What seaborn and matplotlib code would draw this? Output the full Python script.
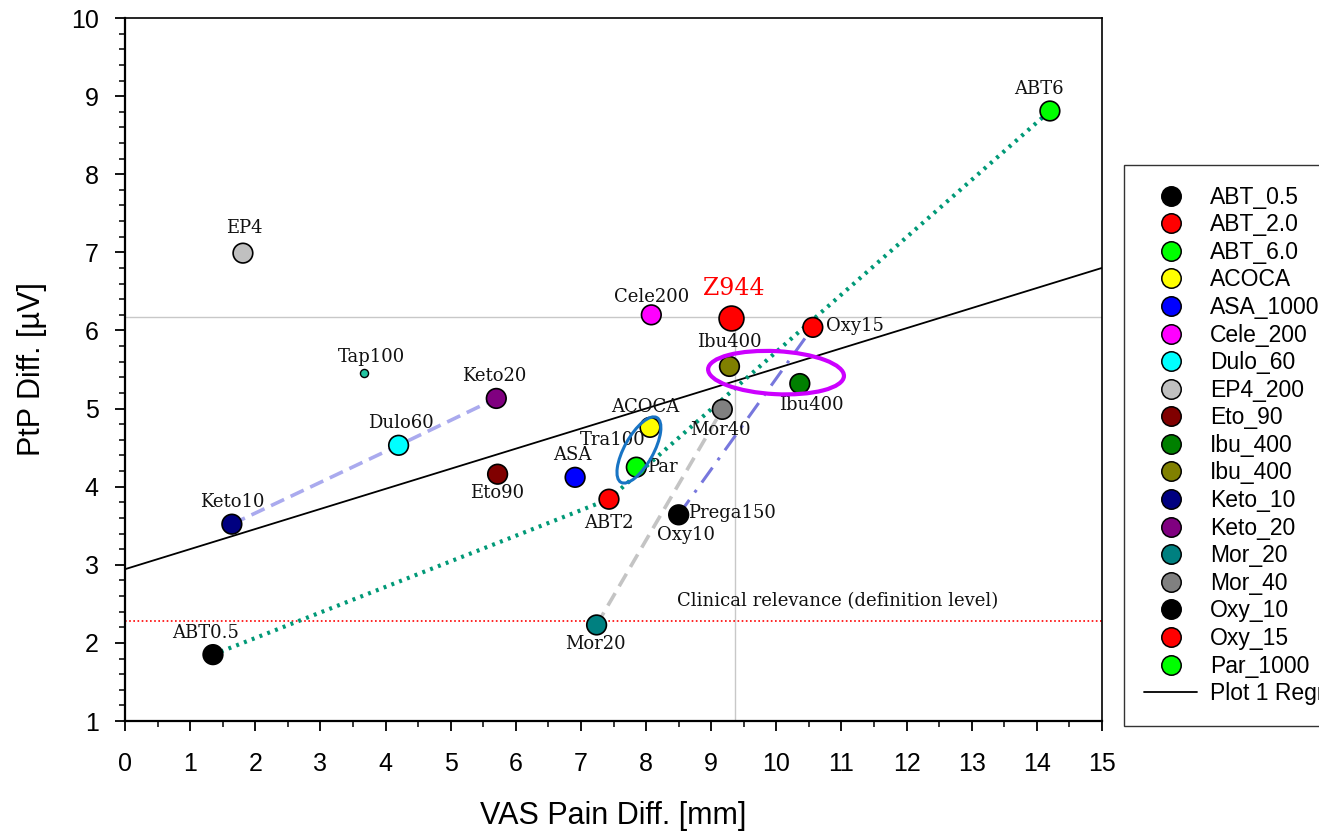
import numpy as np
import pandas as pd
import matplotlib
matplotlib.use('Agg')
import matplotlib.pyplot as plt
import seaborn as sns
from matplotlib.lines import Line2D
from matplotlib.patches import Ellipse
from matplotlib.transforms import ScaledTranslation
from matplotlib.ticker import MultipleLocator

# legend points (drug groups)
names = ['ABT_0.5', 'ABT_2.0', 'ABT_6.0', 'ACOCA', 'ASA_1000', 'Cele_200', 'Dulo_60', 'EP4_200',
         'Eto_90', 'Ibu_400', 'Ibu_400', 'Keto_10', 'Keto_20', 'Mor_20', 'Mor_40', 'Oxy_10',
         'Oxy_15', 'Par_1000']
vas = [1.35, 7.43, 14.20, 8.06, 6.91, 8.08, 4.20, 1.81, 5.72, 10.36, 9.28, 1.64, 5.70, 7.24,
       9.17, 8.50, 10.56, 7.85]
ptp = [1.85, 3.84, 8.81, 4.76, 4.12, 6.20, 4.53, 6.99, 4.16, 5.32, 5.54, 3.52, 5.13, 2.23,
       4.99, 3.64, 6.04, 4.25]
colors = ['#000000', '#ff0000', '#00ff00', '#ffff00', '#0000ff', '#ff00ff', '#00ffff', '#c0c0c0',
          '#800000', '#008000', '#808000', '#000080', '#800080', '#008080', '#808080', '#000000',
          '#ff0000', '#00ff00']

# extra points not in legend
z944 = (9.30, 6.16)
tap100 = (3.67, 5.45)

# reference lines
clin_level = 2.28
ref_x, ref_y = 9.37, 6.17

# point labels: text, x, y, ha
labels = [('ABT6', 14.03, 9.09, 'center'), ('EP4', 1.83, 7.31, 'center'),
          ('Cele200', 8.08, 6.43, 'center'), ('Oxy15', 10.76, 6.06, 'left'),
          ('Ibu400', 9.28, 5.85, 'center'), ('Ibu400', 10.53, 5.05, 'center'),
          ('Mor40', 9.14, 4.73, 'center'), ('ACOCA', 7.98, 5.02, 'center'),
          ('Tra100', 7.49, 4.60, 'center'), ('Par', 8.02, 4.25, 'left'),
          ('ASA', 6.86, 4.41, 'center'), ('ABT2', 7.43, 3.53, 'center'),
          ('Prega150', 8.64, 3.66, 'left'), ('Oxy10', 8.62, 3.38, 'center'),
          ('Mor20', 7.23, 1.99, 'center'), ('ABT0.5', 1.23, 2.13, 'center'),
          ('Keto10', 1.64, 3.81, 'center'), ('Dulo60', 4.23, 4.82, 'center'),
          ('Keto20', 5.67, 5.42, 'center'), ('Tap100', 3.78, 5.66, 'center'),
          ('Eto90', 5.71, 3.92, 'center')]

df = pd.DataFrame({'name': names, 'vas': vas, 'ptp': ptp, 'color': colors})
df['key'] = [f'{n}_{i}' for i, n in enumerate(names)]

sns.set_style('ticks')
plt.rcParams['font.family'] = ['Liberation Sans', 'DejaVu Sans']
plt.rcParams['text.color'] = 'black'
plt.rcParams['axes.labelcolor'] = 'black'

fig = plt.figure(figsize=(13.19, 8.35), dpi=100)
ax = fig.add_axes([0.0948, 0.1365, 0.7407, 0.8419])
ax.set_xlim(0, 15)
ax.set_ylim(1, 10)

# grey crosshair and clinical relevance line
ax.axhline(ref_y, color='#c8c8c8', lw=1, zorder=1)
ax.plot([ref_x, ref_x], [1, ref_y], color='#c8c8c8', lw=1, zorder=1)
ax.axhline(clin_level, color='red', lw=1.2, ls=(0, (1, 1.5)), zorder=1)
ax.text(10.94, clin_level + 0.25, 'Clinical relevance (definition level)', ha='center', va='center',
        family='DejaVu Serif', fontsize=13, color='#111111')

# regression over the legend points
sns.regplot(data=df, x='vas', y='ptp', scatter=False, ci=None, truncate=False, ax=ax,
            line_kws=dict(color='black', lw=1.3, zorder=2))

# connecting lines between related doses
d = df.set_index('key')
def seg(keys, **kw):
    ax.plot(d.loc[keys, 'vas'], d.loc[keys, 'ptp'], zorder=2, **kw)

seg(['ABT_0.5_0', 'ABT_2.0_1', 'ABT_6.0_2'], color='#009977', lw=3, ls=(0, (0.7, 1.3)))
seg(['Keto_10_11', 'Dulo_60_6', 'Keto_20_12'], color='#aaaaee', lw=2.6, ls=(0, (4, 2)))
seg(['Mor_20_13', 'Mor_40_14'], color='#c4c4c4', lw=2.6, ls=(0, (4, 2.2)))
seg(['Oxy_10_15', 'Oxy_15_16'], color='#7777dd', lw=2.2, ls=(0, (6, 3, 1, 3)))

sns.scatterplot(data=df, x='vas', y='ptp', hue='key', palette=dict(zip(df['key'], df['color'])),
                s=200, edgecolor='black', linewidth=1.2, legend=False, ax=ax, zorder=3)
ax.scatter([z944[0]], [z944[1]], s=320, color='red', edgecolor='black', linewidth=1.2, zorder=3)
ax.scatter([tap100[0]], [tap100[1]], s=34, color='#22c4a0', edgecolor='black', linewidth=1, zorder=3)

for t, x, y, ha in labels:
    ax.text(x, y, t, ha=ha, va='center', family='DejaVu Serif', fontsize=13, color='#111111')
ax.text(z944[0] + 0.05, z944[1] + 0.38, 'Z944', ha='center', va='center', family='DejaVu Serif',
        fontsize=17, color='red')

# ellipses (size in inches, centred on data points)
def ring(cx, cy, w, h, ang, col, lw):
    tr = fig.dpi_scale_trans + ScaledTranslation(cx, cy, ax.transData)
    ax.add_patch(Ellipse((0, 0), w, h, angle=ang, fill=False, ec=col, lw=lw, transform=tr, zorder=4))

ring(7.89, 4.47, 0.74, 0.29, 61, '#1874c4', 2.2)
ring(9.995, 5.46, 1.36, 0.43, -3, '#cc00ff', 3)

ax.set_xlabel('VAS Pain Diff. [mm]', fontsize=22, labelpad=18)
ax.set_ylabel('PtP Diff. [µV]', fontsize=22, labelpad=17)
ax.xaxis.set_major_locator(MultipleLocator(1))
ax.xaxis.set_minor_locator(MultipleLocator(0.5))
ax.yaxis.set_major_locator(MultipleLocator(1))
ax.yaxis.set_minor_locator(MultipleLocator(0.2))
ax.tick_params(which='major', direction='out', length=7, width=1.3, labelsize=18, pad=12,
               color='black', labelcolor='black')
ax.tick_params(axis='x', which='major', pad=15)
ax.tick_params(which='minor', direction='out', length=4.5, width=1.1, color='black')
for sp in ax.spines.values():
    sp.set_color('black')
    sp.set_linewidth(1.2)
ax.spines['left'].set_linewidth(1.6)
ax.spines['bottom'].set_linewidth(1.6)

handles = [Line2D([], [], ls='none', marker='o', markersize=14, markerfacecolor=c,
                  markeredgecolor='black', markeredgewidth=1.1) for c in colors]
handles.append(Line2D([], [], color='black', lw=1.3))
leg = fig.legend(handles, names + ['Plot 1 Regression'], loc='upper left',
                 bbox_to_anchor=(0.852, 0.8024), fontsize=16.5, frameon=True, fancybox=False,
                 edgecolor='black', labelspacing=0.2, handlelength=2.3, handletextpad=0.55,
                 borderpad=0.9, borderaxespad=0)
leg.get_frame().set_linewidth(1)

fig.savefig('out.png', dpi=100)
